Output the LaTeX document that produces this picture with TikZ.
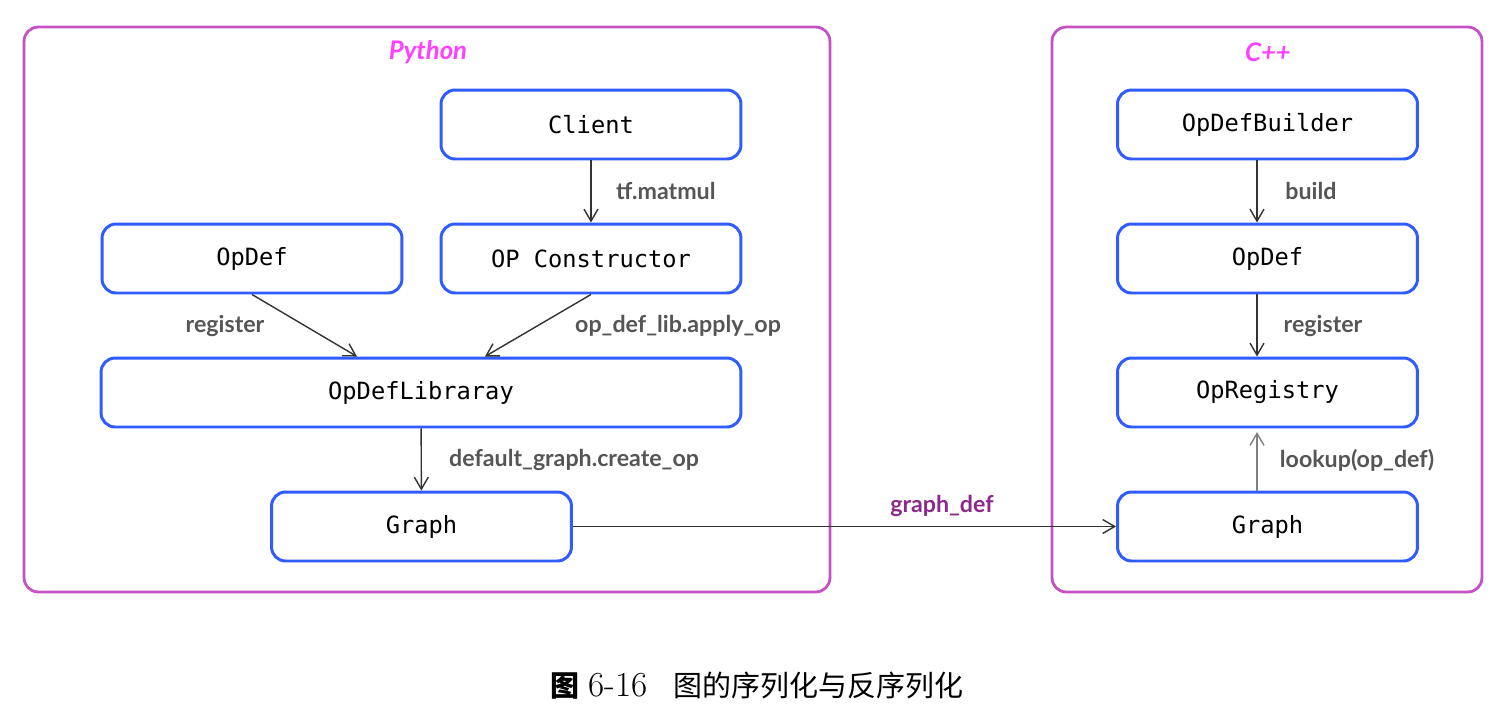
\documentclass[tikz,border=0pt]{standalone}
\usepackage{fontspec}
\usepackage{tikz}
\usetikzlibrary{shapes,arrows,arrows.meta,positioning,fit}
\newfontfamily\boxfont{DejaVu Sans Mono}
\newfontfamily\labelfont{Lato}
\newfontfamily\cjk{Noto Sans CJK SC}
\definecolor{nodeblue}{RGB}{48,92,255}
\definecolor{framepurple}{RGB}{196,82,196}
\definecolor{langpink}{RGB}{255,64,255}
\definecolor{callgray}{RGB}{85,85,85}
\definecolor{defpurple}{RGB}{140,40,140}

\begin{document}
\begin{tikzpicture}[x=0.02cm, y=-0.02cm]
		\tikzstyle{Frame}	= [draw=framepurple, line width=1.6pt, rounded corners=8pt, minimum height=11.3cm, inner sep=0pt]
		\tikzstyle{Lang}	= [text=langpink, font=\labelfont\bfseries\itshape\fontsize{14.6}{17}\selectfont]
		\tikzstyle{Box}		= [draw=nodeblue, line width=1.7pt, rounded corners=8pt, fill=white, minimum width=6cm, minimum height=1.38cm, inner sep=0pt, font=\boxfont\fontsize{13.5}{16}\selectfont]
		\tikzstyle{Call}	= [text=callgray, font=\labelfont\bfseries\fontsize{13.2}{15}\selectfont]
		\tikzstyle{Flow}	= [-{Straight Barb[length=2.4mm,width=2.8mm]}, thick, black!80]
		\tikzstyle{Lookup}	= [Flow, gray]

		\useasboundingbox (0,0) rectangle (1512,724);

		% frames
		\node (PyBox) at (427,309.5) [Frame, minimum width=16.12cm] {};
		\node (CppBox) at (1267,309.5) [Frame, minimum width=8.6cm] {};
		\node (PyLang) at (428,52) [Lang] {Python};
		\node (CppLang) at (1268,52) [Lang] {C++};

		% python side
		\node (Client) at (591,124.5) [Box] {Client};
		\node (OpCons) at (591,258.5) [Box] {OP Constructor};
		\node (OpDefPy) at (252,258.5) [Box] {OpDef};
		\node (OpLib) at (421,392.5) [Box, minimum width=12.8cm] {OpDefLibraray};
		\node (GraphPy) at (421.5,526.5) [Box] {Graph};

		% c++ side
		\node (Builder) at (1267.5,124.5) [Box] {OpDefBuilder};
		\node (OpDefCpp) at (1267.5,258.5) [Box] {OpDef};
		\node (Registry) at (1267.5,392.5) [Box] {OpRegistry};
		\node (GraphCpp) at (1267.5,526.5) [Box] {Graph};

		\draw [Flow] (Client) to (OpCons);
		\draw [Flow] (OpDefPy.south) to ([xshift=-1.28cm]OpLib.north);
		\draw [Flow] (OpCons.south) to ([xshift=1.28cm]OpLib.north);
		\draw [Flow] (OpLib) to (GraphPy);
		\draw [Flow] (GraphPy) to (GraphCpp);
		\draw [Flow] ([xshift=-0.21cm]Builder.south) to ([xshift=-0.21cm]OpDefCpp.north);
		\draw [Flow] ([xshift=-0.21cm]OpDefCpp.south) to ([xshift=-0.21cm]Registry.north);
		\draw [Lookup, shorten >=2pt] ([xshift=-0.21cm]GraphCpp.north) to ([xshift=-0.21cm]Registry.south);

		% labels
		\node (LMatmul) at (610,191) [Call, anchor=west] {tf.matmul};
		\node (LRegPy) at (225,326) [Call] {register};
		\node (LApply) at (678,326) [Call] {op\_def\_lib.apply\_op};
		\node (LCreate) at (443,460) [Call, anchor=west] {default\_graph.create\_op};
		\node (LGraphDef) at (942,506) [Call, text=defpurple] {graph\_def};
		\node (LBuild) at (1311,191) [Call] {build};
		\node (LRegCpp) at (1323,326) [Call] {register};
		\node (LLookup) at (1357,460) [Call] {lookup(op\_def)};

		\node (Caption) at (757,686) [font=\fontsize{16.5}{19}\selectfont] {{\cjk\bfseries 图}\ {\fontsize{20}{22}\selectfont 6-16}\hspace{0.9em}{\cjk 图的序列化与反序列化}};
	\end{tikzpicture}
\end{document}
